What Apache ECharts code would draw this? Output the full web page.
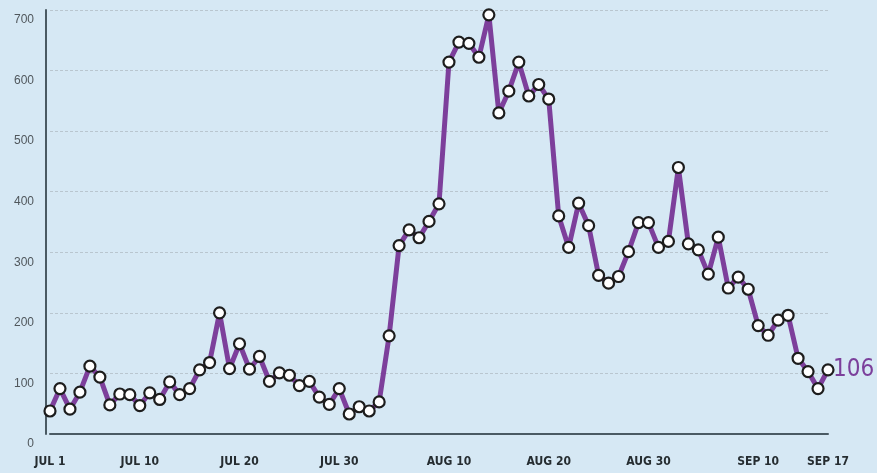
<!DOCTYPE html>
<html>
<head>
<meta charset="utf-8">
<script src="https://cdn.jsdelivr.net/npm/echarts@6/dist/echarts.min.js"></script>
<style>
html,body{margin:0;padding:0;background:#d6e8f4;}
#c{width:877px;height:473px;}
</style>
</head>
<body>
<div id="c"></div>
<script>
// Daily values, Jul 1 – Sep 17
const values = [
  38, 75, 41, 69, 112, 94, 48, 66, 65, 47,
  68, 57, 86, 65, 75, 106, 118, 200, 108, 149,
  107, 128, 87, 101, 97, 80, 87, 61, 49, 75,
  33, 45, 38, 53, 162, 311, 337, 324, 351, 380,
  614, 647, 645, 622, 692, 530, 566, 614, 558, 577,
  553, 360, 308, 381, 344, 262, 249, 260, 301, 349,
  349, 308, 318, 440, 314, 304, 264, 325, 241, 259,
  239, 179, 163, 188, 196, 125, 103, 75, 106
];
const months = [["JUL", 31], ["AUG", 31], ["SEP", 17]];
const categories = [];
months.forEach(([m, n]) => { for (let d = 1; d <= n; d++) categories.push(m + " " + d); });
const tickLabels = ["JUL 1", "JUL 10", "JUL 20", "JUL 30", "AUG 10", "AUG 20", "AUG 30", "SEP 10", "SEP 17"];
const yTicks = [0, 100, 200, 300, 400, 500, 600, 700];

const chart = echarts.init(document.getElementById('c'));
chart.setOption({
  backgroundColor: '#d6e8f4',
  animation: false,
  grid: { left: 50, right: 49, top: 10, bottom: 39, containLabel: false },
  xAxis: {
    type: 'category',
    data: categories,
    boundaryGap: false,
    axisLine: { show: true, lineStyle: { color: '#4a5a63', width: 2 } },
    axisTick: { show: false },
    splitLine: { show: false },
    axisLabel: {
      interval: (i, v) => tickLabels.indexOf(v) >= 0,
      formatter: v => v,
      margin: 22,
      color: '#262d31',
      fontFamily: '"DejaVu Sans Condensed", "Liberation Sans Narrow", sans-serif',
      fontWeight: 'bold',
      fontSize: 12
    }
  },
  yAxis: {
    type: 'value',
    min: yTicks[0],
    max: yTicks[yTicks.length - 1],
    interval: 100,
    offset: 4,
    axisLine: { show: true, lineStyle: { color: '#4a5a63', width: 2 } },
    axisTick: { show: false },
    splitLine: { show: true, lineStyle: { color: '#b9c6cf', type: [3, 2], width: 1 } },
    axisLabel: {
      margin: 12,
      color: '#50575c',
      fontFamily: '"Liberation Sans", Arial, sans-serif',
      fontSize: 12,
      verticalAlign: 'top',
      padding: [4, 0, 0, 0],
      showMaxLabel: true
    }
  },
  series: [{
    type: 'line',
    data: values,
    symbol: 'circle',
    symbolSize: 11,
    showAllSymbol: true,
    lineStyle: { color: '#7d3f9b', width: 5 },
    itemStyle: { color: '#ffffff', borderColor: '#1d1d1d', borderWidth: 2.2 },
    endLabel: {
      show: true,
      formatter: p => String(p.value),
      color: '#7b3f9b',
      fontFamily: '"DejaVu Sans Condensed", "Liberation Sans Narrow", sans-serif',
      fontSize: 24,
      distance: 5
    },
    z: 3
  }]
});
</script>
</body>
</html>
